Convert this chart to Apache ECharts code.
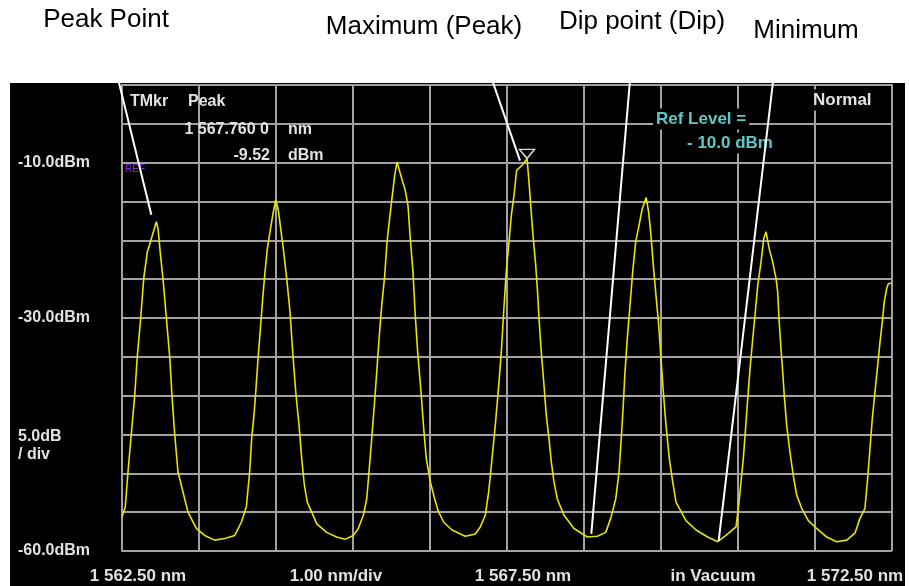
<!DOCTYPE html>
<html>
<head>
<meta charset="utf-8">
<script src="https://cdn.jsdelivr.net/npm/echarts@6/dist/echarts.min.js"></script>
<style>html,body{margin:0;padding:0;background:#fff}#c{width:909px;height:586px}</style>
</head>
<body>
<div id="c"></div>
<script>
// ---- data ----
const wavelength = [
1562.500,1562.543,1562.578,1562.621,1562.665,1562.699,1562.743,1562.782,1562.829,1562.881,
1562.946,1562.968,1562.998,1563.032,1563.076,1563.119,1563.149,1563.184,1563.227,1563.292,
1563.357,1563.465,1563.574,1563.704,1563.834,1563.964,1564.050,1564.115,1564.158,1564.184,
1564.214,1564.240,1564.270,1564.301,1564.327,1564.357,1564.387,1564.422,1564.457,1564.496,
1564.530,1564.561,1564.595,1564.639,1564.682,1564.717,1564.756,1564.799,1564.834,1564.868,
1564.906,1564.964,1565.029,1565.158,1565.288,1565.396,1565.504,1565.569,1565.634,1565.678,
1565.708,1565.743,1565.777,1565.808,1565.838,1565.873,1565.912,1565.942,1565.971,1566.006,
1566.042,1566.071,1566.114,1566.179,1566.214,1566.244,1566.279,1566.309,1566.340,1566.383,
1566.418,1566.452,1566.504,1566.561,1566.604,1566.678,1566.786,1566.958,1567.088,1567.153,
1567.218,1567.262,1567.305,1567.348,1567.392,1567.426,1567.457,1567.487,1567.522,1567.556,
1567.591,1567.625,1567.699,1567.760,1567.786,1567.808,1567.838,1567.873,1567.894,1567.916,
1567.945,1567.981,1568.010,1568.045,1568.075,1568.110,1568.153,1568.240,1568.370,1568.543,
1568.673,1568.782,1568.847,1568.912,1568.955,1568.984,1569.010,1569.032,1569.062,1569.097,
1569.132,1569.171,1569.214,1569.257,1569.308,1569.340,1569.370,1569.400,1569.435,1569.470,
1569.500,1569.530,1569.565,1569.608,1569.652,1569.695,1569.738,1569.825,1569.955,1570.106,
1570.236,1570.344,1570.474,1570.509,1570.539,1570.569,1570.595,1570.626,1570.660,1570.691,
1570.725,1570.756,1570.799,1570.834,1570.864,1570.906,1570.951,1570.994,1571.016,1571.032,
1571.058,1571.081,1571.101,1571.132,1571.175,1571.218,1571.262,1571.327,1571.413,1571.522,
1571.652,1571.782,1571.912,1572.019,1572.084,1572.149,1572.184,1572.214,1572.244,1572.279,
1572.314,1572.344,1572.374,1572.400,1572.431,1572.452,1572.500
];
const power = [
-55.6,-54.3,-49.8,-44.9,-40.0,-34.9,-30.0,-24.9,-21.5,-19.8,
-17.6,-18.5,-21.7,-24.9,-30.0,-34.9,-40.0,-44.9,-49.8,-52.4,
-55.0,-57.1,-58.0,-58.6,-58.4,-58.0,-56.3,-54.3,-49.8,-45.5,
-42.5,-39.1,-34.8,-30.9,-27.5,-24.1,-21.1,-18.9,-16.8,-14.8,
-16.1,-18.5,-21.1,-24.9,-29.2,-34.4,-39.5,-43.8,-48.1,-51.5,
-53.7,-55.0,-56.5,-57.6,-58.2,-58.5,-58.0,-57.1,-55.4,-53.3,
-49.8,-45.5,-41.2,-37.0,-32.7,-28.4,-24.5,-20.2,-17.6,-14.6,
-11.6,-9.9,-11.4,-13.6,-15.5,-19.8,-24.1,-29.7,-34.4,-39.5,
-44.2,-48.1,-51.1,-53.3,-54.8,-56.3,-57.3,-58.1,-57.8,-56.9,
-55.4,-52.4,-48.1,-43.8,-38.7,-34.4,-29.2,-24.5,-20.6,-16.8,
-14.2,-11.0,-10.3,-9.5,-12.5,-15.5,-19.4,-23.2,-26.2,-30.1,
-34.4,-38.7,-42.5,-45.5,-48.5,-51.1,-53.3,-55.4,-57.1,-58.2,
-58.1,-57.6,-55.8,-53.3,-49.8,-45.5,-41.2,-37.0,-32.7,-28.4,
-24.1,-20.2,-18.1,-15.9,-14.5,-16.4,-19.4,-23.2,-27.1,-30.9,
-35.2,-39.5,-43.8,-48.1,-51.1,-53.7,-54.5,-56.1,-57.3,-58.2,
-58.8,-58.0,-56.9,-54.1,-51.1,-48.1,-44.7,-40.4,-36.1,-32.7,
-29.2,-25.8,-22.8,-19.8,-18.9,-21.1,-22.8,-24.9,-26.7,-30.1,
-33.9,-37.0,-40.0,-43.8,-47.3,-50.3,-52.8,-54.5,-56.1,-57.1,
-58.2,-58.8,-58.6,-57.7,-55.8,-54.5,-50.6,-46.8,-43.0,-39.5,
-36.1,-33.1,-30.5,-27.9,-26.2,-25.6,-25.5
];
const xRange = [1562.5, 1572.5];
const xStep = 1.0;
const yRange = [-60, 0];
const yStep = 5;
const xTickValues = [1562.5, 1567.5, 1572.5];
const xTickLabels = ['1 562.50 nm', '1 567.50 nm', '1 572.50 nm'];
const yTickValues = [-10, -30, -60];
const yTickLabels = ['-10.0dBm', '-30.0dBm', '-60.0dBm'];
const markerWavelength = 1567.760;
const markerPower = -9.52;
const markerTexts = ['TMkr', 'Peak', '1 567.760 0', 'nm', '-9.52', 'dBm'];
const annotationNames = ['Peak Point', 'Maximum (Peak)', 'Dip point (Dip)', 'Minimum'];
const annotationTargets = [[1562.881, -16.7], [1567.669, -9.74], [1568.595, -57.8], [1570.249, -58.7]];

// ---- chart ----
const chart = echarts.init(document.getElementById('c'), null, {renderer: 'canvas'});
const FONT = '"Liberation Sans", Arial, sans-serif';
const grid = '#a2a2a2';
const lab = '#e2e2e2';

function pick(vals, labels, v) {
  for (let i = 0; i < vals.length; i++) if (Math.abs(vals[i] - v) < 1e-6) return labels[i];
  return '';
}

const seriesData = wavelength.map((w, i) => [w, power[i]]);

chart.setOption({
  backgroundColor: '#fff',
  animation: false,
  grid: {left: 122, right: 17, top: 85, bottom: 35, containLabel: false, outerBoundsMode: 'none'},
  xAxis: {
    type: 'value', min: xRange[0], max: xRange[1], interval: xStep,
    axisLine: {show: true, lineStyle: {color: grid, width: 2}},
    axisTick: {show: false},
    splitLine: {show: true, lineStyle: {color: grid, width: 2}},
    axisLabel: {show: false}
  },
  yAxis: {
    type: 'value', min: yRange[0], max: yRange[1], interval: yStep,
    axisLine: {show: true, lineStyle: {color: grid, width: 2}},
    axisTick: {show: false},
    splitLine: {show: true, lineStyle: {color: grid, width: 2}},
    axisLabel: {
      show: true, margin: 104, align: 'left', color: lab, fontWeight: 'bold', fontSize: 16, fontFamily: FONT,
      formatter: v => pick(yTickValues, yTickLabels, v)
    }
  },
  series: [{
    type: 'line', data: seriesData, showSymbol: false, smooth: false,
    lineStyle: {color: '#e6e600', width: 1.6},
    z: 5,
    markPoint: {
      symbol: 'triangle', symbolRotate: 180, symbolSize: [15, 9], symbolOffset: [0, -5],
      label: {show: false},
      itemStyle: {color: 'rgba(0,0,0,0)', borderColor: '#d8d8d8', borderWidth: 1.5},
      data: [{coord: [markerWavelength, markerPower]}]
    }
  }]
});

const P = annotationTargets.map(t => chart.convertToPixel({gridIndex: 0}, t));
const starts = [[108, 38], [480, 45], [633, 45], [777, 48]];
const textPos = [[106, 20], [424, 27], [642, 22], [806, 31]];
const xLabelShift = [16, 16, -37];

function txt(x, y, s, o) {
  return Object.assign({type: 'text', x: x, y: y, z: 50,
    style: Object.assign({text: s, fill: lab, font: 'bold 16px ' + FONT, textAlign: 'left', textVerticalAlign: 'middle'}, o || {})});
}

const g = [];
g.push({type: 'rect', z: -10, shape: {x: 10, y: 83, width: 895, height: 503}, style: {fill: '#000'}, silent: true});
// top annotations
annotationNames.forEach((n, i) => {
  g.push({type: 'text', x: textPos[i][0], y: textPos[i][1], z: 50,
    style: {text: n, fill: '#000', font: '26px ' + FONT, textAlign: 'center', textVerticalAlign: 'middle'}});
  g.push({type: 'line', z: 60, shape: {x1: starts[i][0], y1: starts[i][1], x2: P[i][0], y2: P[i][1]},
    style: {stroke: '#fff', lineWidth: 2}});
});
// x tick labels placed through the axis scale
xTickValues.forEach((v, i) => {
  const p = chart.convertToPixel({gridIndex: 0}, [v, yRange[0]]);
  g.push(txt(p[0] + xLabelShift[i], p[1] + 25, xTickLabels[i], {font: 'bold 17px ' + FONT, textAlign: 'center'}));
});
// marker readout
g.push(txt(130, 102, markerTexts[0]));
g.push(txt(188, 102, markerTexts[1]));
g.push(txt(269, 130, markerTexts[2], {textAlign: 'right'}));
g.push(txt(288, 130, markerTexts[3]));
g.push(txt(270, 156, markerTexts[4], {textAlign: 'right'}));
g.push(txt(288, 156, markerTexts[5]));
g.push(txt(125, 169, 'REF', {fill: '#8a2be2', font: '10px ' + FONT}));
// ref level
g.push(txt(653, 119, 'Ref Level =', {fill: '#5cc8c8', font: 'bold 17px ' + FONT, backgroundColor: '#000', padding: [2, 3, 2, 3]}));
g.push(txt(684, 143, '- 10.0 dBm', {fill: '#5cc8c8', font: 'bold 17px ' + FONT, backgroundColor: '#000', padding: [2, 3, 2, 3]}));
g.push(txt(810, 100, 'Normal', {fill: lab, font: 'bold 17px ' + FONT, backgroundColor: '#000', padding: [2, 3, 2, 3]}));
// left side
g.push(txt(18, 437, '5.0dB', {font: 'bold 16px ' + FONT}));
g.push(txt(18, 455, '/ div', {font: 'bold 16px ' + FONT}));
// bottom
g.push(txt(336, 576, '1.00 nm/div', {font: 'bold 17px ' + FONT, textAlign: 'center'}));
g.push(txt(713, 576, 'in Vacuum', {font: 'bold 17px ' + FONT, textAlign: 'center'}));

chart.setOption({graphic: {elements: g}});
</script>
</body>
</html>
